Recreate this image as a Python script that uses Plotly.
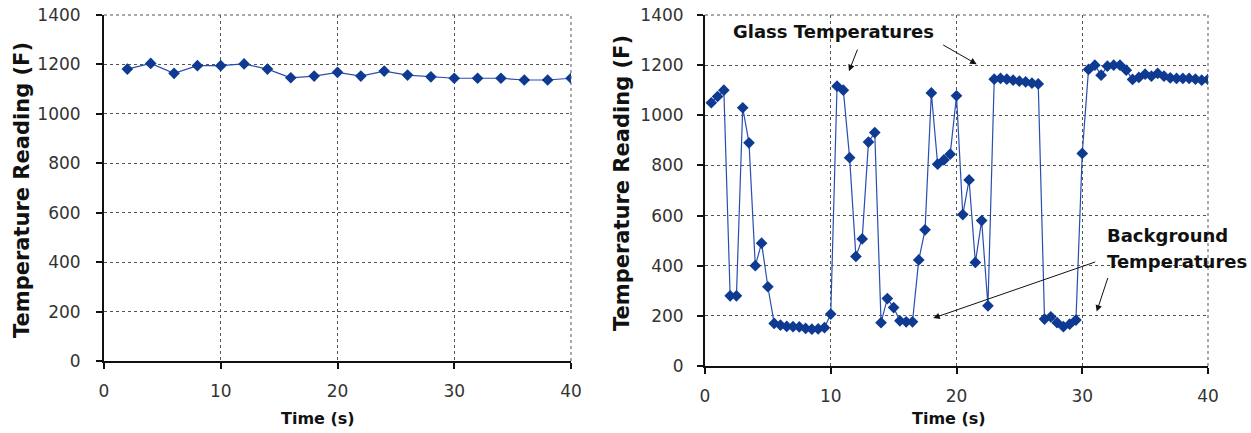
import plotly.graph_objects as go

# Left chart data
left_time = [2, 4, 6, 8, 10, 12, 14, 16, 18, 20, 22, 24, 26, 28, 30, 32, 34, 36, 38, 40]
left_temp = [1181, 1204, 1164, 1195, 1195, 1202, 1181, 1146, 1153, 1168,
             1153, 1173, 1157, 1150, 1144, 1144, 1144, 1137, 1137, 1144]

# Right chart data (sampled every 0.5 s)
right_time = [0.5 * i for i in range(1, 81)]
right_temp = [1050, 1075, 1100, 280, 280, 1030, 890, 400, 490, 316,
              170, 163, 158, 157, 156, 150, 147, 148, 153, 207,
              1116, 1100, 831, 437, 507, 893, 931, 173, 269, 233,
              180, 176, 176, 423, 543, 1089, 805, 822, 845, 1078,
              604, 742, 413, 580, 240, 1144, 1147, 1144, 1140, 1136,
              1133, 1128, 1125, 187, 196, 173, 157, 167, 183, 848,
              1183, 1200, 1160, 1196, 1200, 1200, 1180, 1143, 1151, 1164,
              1156, 1167, 1156, 1149, 1147, 1147, 1147, 1144, 1140, 1143]

x_ticks = [0, 10, 20, 30, 40]
y_ticks = [0, 200, 400, 600, 800, 1000, 1200, 1400]

FONT = "DejaVu Sans"
MARK = "#0E3A92"
LINE = "#2A4DB0"

fig = go.Figure()
fig.add_trace(go.Scatter(x=left_time, y=left_temp, mode="lines+markers",
                         line=dict(color=LINE, width=1.2),
                         marker=dict(symbol="diamond", size=9, color=MARK),
                         xaxis="x", yaxis="y", showlegend=False))
fig.add_trace(go.Scatter(x=right_time, y=right_temp, mode="lines+markers",
                         line=dict(color=LINE, width=1.2),
                         marker=dict(symbol="diamond", size=9, color=MARK),
                         xaxis="x2", yaxis="y2", showlegend=False))

W, H = 1251, 433

def px_x(p):
    return p / W

def px_y(p):
    return 1 - p / H

axis_common = dict(
    showline=True, linecolor="#111", linewidth=2,
    ticks="outside", ticklen=6, tickwidth=2, tickcolor="#111",
    showgrid=True, gridcolor="#555", griddash="dot", gridwidth=1,
    zeroline=False, tickfont=dict(family=FONT, size=17, color="#333"),
    fixedrange=True, automargin=False,
)

fig.update_layout(
    width=W, height=H,
    margin=dict(l=0, r=0, t=0, b=0, autoexpand=False),
    paper_bgcolor="white", plot_bgcolor="white",
    xaxis=dict(domain=[px_x(104), px_x(571)], range=[0, 40], tickvals=x_ticks,
               anchor="y", ticklabelstandoff=8, **axis_common),
    yaxis=dict(domain=[px_y(361), px_y(15)], range=[0, 1400], tickvals=y_ticks,
               anchor="x", ticklabelstandoff=12, **axis_common),
    xaxis2=dict(domain=[px_x(705), px_x(1208)], range=[0, 40], tickvals=x_ticks,
                anchor="y2", ticklabelstandoff=8, **axis_common),
    yaxis2=dict(domain=[px_y(366), px_y(15)], range=[0, 1400], tickvals=y_ticks,
                anchor="x2", ticklabelstandoff=10, **axis_common),
)

# top and right dotted border lines (grid at range edges)
for xr, yr in (("x", "y"), ("x2", "y2")):
    fig.add_shape(type="line", xref=xr + " domain", yref=yr + " domain",
                  x0=0, x1=1, y0=1, y1=1, line=dict(color="#555", width=1, dash="dot"))
    fig.add_shape(type="line", xref=xr + " domain", yref=yr + " domain",
                  x0=1, x1=1, y0=0, y1=1, line=dict(color="#555", width=1, dash="dot"))

ann = []
bold = dict(family=FONT, size=21, color="#111")
# y-axis titles
ann.append(dict(text="<b>Temperature Reading (F)</b>", xref="paper", yref="paper",
                x=px_x(22), y=px_y(190), textangle=-90, showarrow=False,
                xanchor="center", yanchor="middle", font=bold))
ann.append(dict(text="<b>Temperature Reading (F)</b>", xref="paper", yref="paper",
                x=px_x(622), y=px_y(183), textangle=-90, showarrow=False,
                xanchor="center", yanchor="middle", font=bold))
# x-axis titles
xt = dict(family=FONT, size=16, color="#111")
ann.append(dict(text="<b>Time (s)</b>", xref="paper", yref="paper",
                x=px_x(318), y=px_y(418), showarrow=False,
                xanchor="center", yanchor="middle", font=xt))
ann.append(dict(text="<b>Time (s)</b>", xref="paper", yref="paper",
                x=px_x(949), y=px_y(418), showarrow=False,
                xanchor="center", yanchor="middle", font=xt))

af = dict(family=FONT, size=18, color="#111")
ann.append(dict(text="<b>Glass Temperatures</b>", xref="x2", yref="y2",
                x=10.2, y=1336, showarrow=False, xanchor="center", yanchor="middle", font=af))
ann.append(dict(text="<b>Background</b>", xref="x2", yref="y2",
                x=31.8, y=520, showarrow=False, xanchor="left", yanchor="middle", font=af))
ann.append(dict(text="<b>Temperatures</b>", xref="x2", yref="y2",
                x=31.8, y=416, showarrow=False, xanchor="left", yanchor="middle", font=af))

arrows = [((11.45, 1176), (12.17, 1268)),
          ((21.6, 1204), (18.82, 1284)),
          ((18.15, 191), (31.15, 417)),
          ((31.15, 217), (32.07, 357))]
for (hx, hy), (tx, ty) in arrows:
    ann.append(dict(text="", x=hx, y=hy, ax=tx, ay=ty, xref="x2", yref="y2",
                    axref="x2", ayref="y2", showarrow=True, arrowhead=2,
                    arrowsize=1.3, arrowwidth=1, arrowcolor="#111"))

fig.update_layout(annotations=ann)
fig.write_html("out.html")
